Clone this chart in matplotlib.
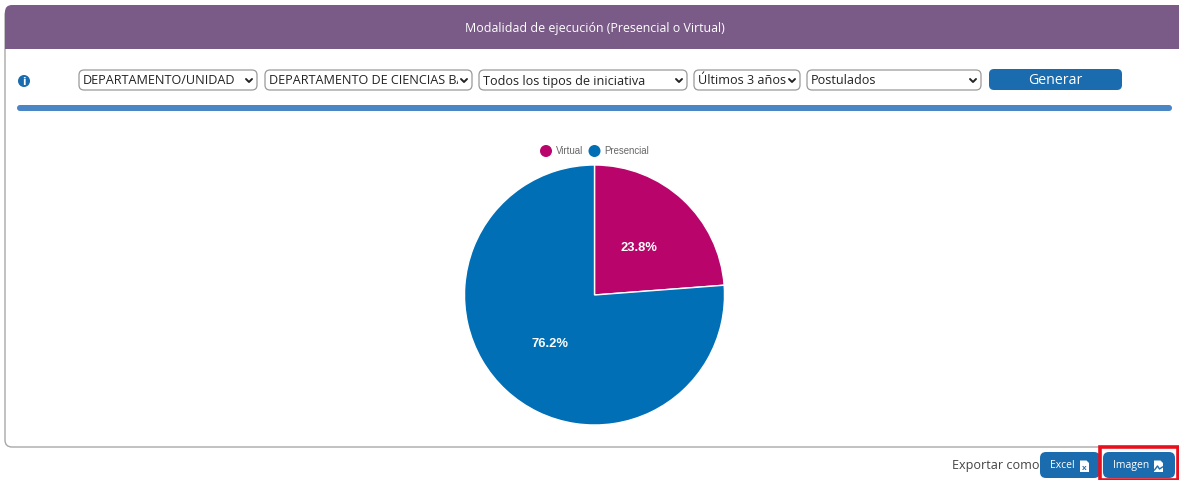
import matplotlib
matplotlib.use("Agg")
from matplotlib import pyplot as plt
from matplotlib.patches import FancyBboxPatch, Rectangle, Circle, Polygon

# data
pieLabels = ["Virtual", "Presencial"]
pieValues = [23.8, 76.2]
pieColors = ["#b9056b", "#006fb5"]

titleText = "Modalidad de ejecución (Presencial o Virtual)"
selectLabels = ["DEPARTAMENTO/UNIDAD", "DEPARTAMENTO DE CIENCIAS BÁSICAS",
                "Todos los tipos de iniciativa", "Últimos 3 años", "Postulados"]
selectLeft = [79, 265, 479, 694, 807]
selectRight = [257, 472, 687, 800, 981]

W, H = 1179, 481
blue = "#1a6cae"
uiFont = "Open Sans"
chartFont = "Liberation Sans"

fig = plt.figure(figsize=(W / 100, H / 100), dpi=100, facecolor="white")
ax = fig.add_axes([0, 0, 1, 1])
ax.set_xlim(0, W)
ax.set_ylim(H - 1, -1)
ax.axis("off")


def rbox(x0, y0, x1, y1, r, **kw):
    p = FancyBboxPatch((x0 + r, y0 + r), x1 - x0 - 2 * r, y1 - y0 - 2 * r,
                       boxstyle=f"round,pad={r},rounding_size={r}", **kw)
    ax.add_patch(p)
    return p


# panel outline and header
rbox(5, 8, 1200, 447, 7, fc="white", ec="#a8a8a8", lw=1)
rbox(5, 5, 1200, 40, 7, fc="#7a5a87", ec="none")
ax.add_patch(Rectangle((5, 25), 1174, 24, fc="#7a5a87", ec="none"))
ax.text(594.5, 27.5, titleText, color="white", fontsize=8.9, family=uiFont,
        ha="center", va="center")

# info icon
ax.add_patch(Circle((24, 81), 6, fc=blue, ec="none"))
ax.text(24, 81, "i", color="white", fontsize=7, family="DejaVu Sans",
        weight="bold", ha="center", va="center")

# dropdowns
for label, left, right in zip(selectLabels, selectLeft, selectRight):
    rbox(left, 70, right, 90, 5, fc="white", ec="#9a9a9a", lw=0.9)
    t = ax.text(left + 4, 80, label, color="#222222", fontsize=9.05,
                family=uiFont, ha="left", va="center", clip_on=True)
    t.set_clip_path(Rectangle((left + 4, 70), right - left - 18, 20,
                              transform=ax.transData))
    cx = right - 8
    ax.plot([cx - 3, cx, cx + 3], [79, 82, 79], color="#222222", lw=1.4,
            solid_capstyle="round")

# generate button and separator
rbox(989, 69, 1122, 90, 5, fc=blue, ec="none")
ax.text(1055.5, 79.5, "Generar", color="white", fontsize=10.2, family=uiFont,
        ha="center", va="center")
rbox(17, 105, 1172, 111, 3, fc="#4a86c5", ec="none")

# legend
for x, xt, name, col in zip([546, 594.5], [556, 604], pieLabels, pieColors):
    ax.add_patch(Circle((x, 151), 6, fc=col, ec="none"))
    ax.text(xt, 150, name, color="#666666", fontsize=6.9, family=chartFont,
            ha="left", va="center")

# pie
pieAx = fig.add_axes([464.5 / W, 1 - 426 / H, 260 / W, 260 / H])
wedges, texts, pcts = pieAx.pie(
    pieValues, colors=pieColors, startangle=90, counterclock=False, radius=1,
    autopct="%.1f%%", pctdistance=0.5,
    wedgeprops={"edgecolor": "white", "linewidth": 1},
    textprops={"color": "white", "fontsize": 9.4, "fontweight": "bold",
               "family": chartFont})
pieAx.set_xlim(-1, 1)
pieAx.set_ylim(-1, 1)

# export row
ax.text(1039, 464.5, "Exportar como", color="#444444", fontsize=9.1, family=uiFont,
        ha="right", va="center")
for x0, x1, label, tx, ix in [(1040, 1100, "Excel", 1062, 1084.5),
                              (1103, 1175, "Imagen", 1131.5, 1158.5)]:
    rbox(x0, 452, x1, 478, 6, fc=blue, ec="none")
    ax.text(tx, 465, label, color="white", fontsize=7.5, family=uiFont,
            ha="center", va="center")
    ax.add_patch(Polygon([(ix - 4.5, 460.5), (ix + 2, 460.5), (ix + 4.5, 463),
                          (ix + 4.5, 472), (ix - 4.5, 472)], fc="white", ec="none"))
    if label == "Excel":
        ax.text(ix, 467.5, "x", color=blue, fontsize=6, family=chartFont,
                weight="bold", ha="center", va="center")
    else:
        ax.plot([ix - 4, ix - 1, ix + 1, ix + 4], [470, 466, 469, 467],
                color=blue, lw=1)
ax.add_patch(Rectangle((1100, 447), 78, 33, fc="none", ec="#e8101c", lw=2.6))

plt.savefig("out.png", dpi=100)
